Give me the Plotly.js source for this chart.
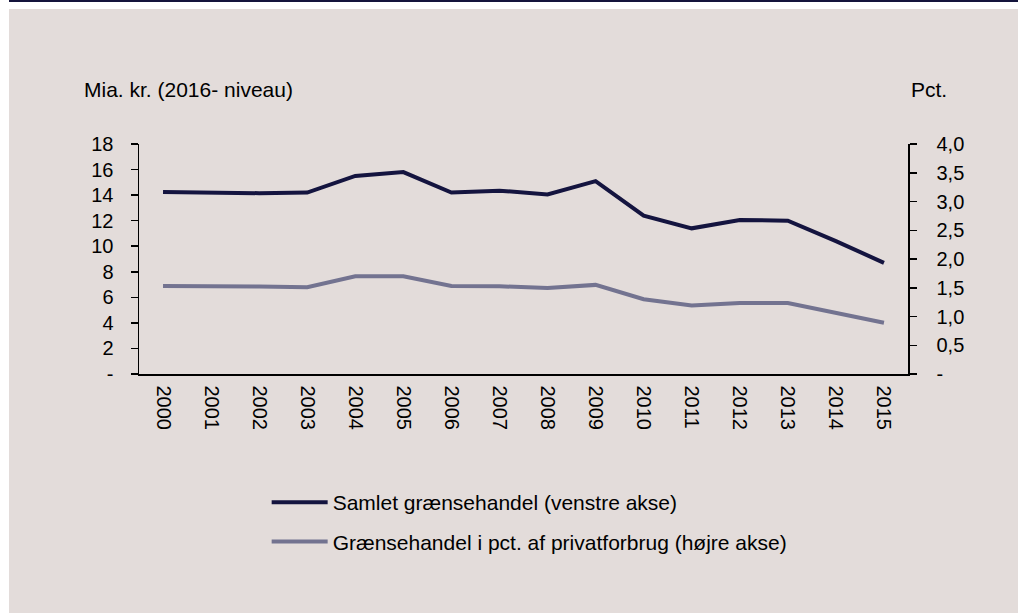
<!DOCTYPE html>
<html>
<head>
<meta charset="utf-8">
<script src="https://cdn.plot.ly/plotly-3.0.1.min.js"></script>
<style>
  html, body { margin: 0; padding: 0; background: #ffffff; }
  #wrap { position: relative; width: 1018px; height: 613px; background: #ffffff; overflow: hidden; }
  #topbar { position: absolute; left: 9px; top: 0; width: 1009px; height: 2px; background: #14143c; }
  #panel { position: absolute; left: 9px; top: 9px; width: 1009px; height: 604px; background: #e3dcda; }
  #chart { position: absolute; left: 0; top: 0; width: 1018px; height: 613px; }
</style>
</head>
<body>
<div id="wrap">
  <div id="topbar"></div>
  <div id="panel"></div>
  <div id="chart"></div>
</div>
<script>
// Data
const years = ['2000','2001','2002','2003','2004','2005','2006','2007','2008','2009','2010','2011','2012','2013','2014','2015'];
const samletGraensehandel = [14.25, 14.2, 14.15, 14.2, 15.5, 15.8, 14.2, 14.35, 14.05, 15.1, 12.4, 11.4, 12.05, 12.0, 10.4, 8.7];
const pctPrivatforbrug = [1.53, 1.53, 1.52, 1.51, 1.70, 1.70, 1.53, 1.525, 1.495, 1.55, 1.30, 1.19, 1.235, 1.235, 1.07, 0.89];

const leftTickVals = [0, 2, 4, 6, 8, 10, 12, 14, 16, 18];
const leftTickText = ['-', '2', '4', '6', '8', '10', '12', '14', '16', '18'];
const rightTickVals = [0, 0.5, 1, 1.5, 2, 2.5, 3, 3.5, 4];
const rightTickText = ['-', '0,5', '1,0', '1,5', '2,0', '2,5', '3,0', '3,5', '4,0'];

const seriesNames = ['Samlet grænsehandel (venstre akse)', 'Grænsehandel i pct. af privatforbrug (højre akse)'];
const leftTitle = 'Mia. kr. (2016- niveau)';
const rightTitle = 'Pct.';

const FONT = 'Liberation Sans, Arial, sans-serif';

const traces = [
  {
    x: years, y: samletGraensehandel, name: seriesNames[0], type: 'scatter', mode: 'lines',
    line: { color: '#14143f', width: 4 }, yaxis: 'y', legendgroup: 'a'
  },
  {
    x: years, y: pctPrivatforbrug, name: seriesNames[1], type: 'scatter', mode: 'lines',
    line: { color: '#737390', width: 4 }, yaxis: 'y2', legendgroup: 'b'
  }
];

const layout = {
  width: 1018, height: 613,
  margin: { l: 139, r: 110, t: 144, b: 239, pad: 0 },
  paper_bgcolor: 'rgba(0,0,0,0)',
  plot_bgcolor: 'rgba(0,0,0,0)',
  font: { family: FONT, size: 20, color: '#000000' },
  showlegend: true,
  legend: {
    x: 0.166, xanchor: 'left', y: -0.47, yanchor: 'top',
    bgcolor: 'rgba(0,0,0,0)', font: { family: FONT, size: 21, color: '#000000' },
    traceorder: 'grouped', tracegroupgap: 9, itemwidth: 56
  },
  xaxis: {
    type: 'category', range: [-0.5, 15.5], showline: true, linecolor: '#000000', linewidth: 1.5,
    ticks: '', tickangle: 90, showgrid: false, zeroline: false,
    tickfont: { family: FONT, size: 20, color: '#000000' }, ticklabelstandoff: 6
  },
  yaxis: {
    range: [0, 18], tickvals: leftTickVals, ticktext: leftTickText,
    showline: true, linecolor: '#000000', linewidth: 1.5,
    ticks: 'outside', ticklen: 7, tickcolor: '#000000', tickwidth: 1.5,
    showgrid: false, zeroline: false, ticklabelstandoff: 13,
    tickfont: { family: FONT, size: 20, color: '#000000' }
  },
  yaxis2: {
    range: [0, 4], tickvals: rightTickVals, ticktext: rightTickText,
    overlaying: 'y', side: 'right',
    showline: true, linecolor: '#000000', linewidth: 1.5,
    ticks: 'outside', ticklen: 7, tickcolor: '#000000', tickwidth: 1.5,
    showgrid: false, zeroline: false, ticklabelstandoff: 16,
    tickfont: { family: FONT, size: 20, color: '#000000' }
  },
  annotations: [
    { text: leftTitle, xref: 'paper', yref: 'paper', x: -0.0741, y: 1.239, xanchor: 'left', yanchor: 'middle',
      showarrow: false, font: { family: FONT, size: 21, color: '#000000' } },
    { text: rightTitle, xref: 'paper', yref: 'paper', x: 1.0013, y: 1.239, xanchor: 'left', yanchor: 'middle',
      showarrow: false, font: { family: FONT, size: 21, color: '#000000' } }
  ]
};

Plotly.newPlot('chart', traces, layout, { staticPlot: true, displayModeBar: false });
</script>
</body>
</html>
